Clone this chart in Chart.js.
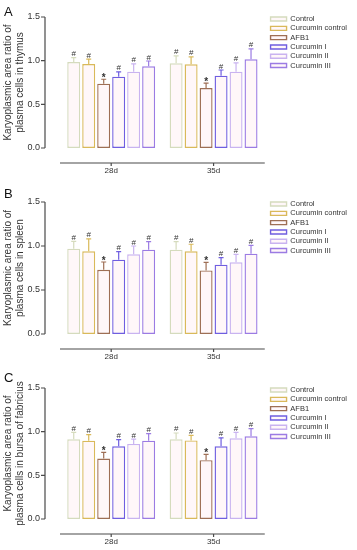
<!DOCTYPE html>
<html>
<head>
<meta charset="utf-8">
<script src="https://cdn.jsdelivr.net/npm/chart.js@4.4.1/dist/chart.umd.min.js"></script>
<style>
    body { margin: 0; background: #fff; }
    #wrap { position: relative; width: 357px; height: 550px; font-family: "Liberation Sans", Arial, sans-serif; }
    .panel { position: absolute; left: 0; width: 357px; }
    .tag { position: absolute; left: 4px; font-size: 13px; line-height: 13px; color: #111; }
</style>
</head>
<body>
<div id="wrap">
    <div class="panel" style="top:0;height:180px"><canvas id="chartA" width="357" height="180"></canvas></div>
    <div class="panel" style="top:180px;height:185px"><canvas id="chartB" width="357" height="185"></canvas></div>
    <div class="panel" style="top:365px;height:185px"><canvas id="chartC" width="357" height="185"></canvas></div>
    <div class="tag" style="top:5px">A</div>
    <div class="tag" style="top:187px">B</div>
    <div class="tag" style="top:371px">C</div>
</div>
<script>
const categories = ["28d", "35d"];
const groupNames = ["Control", "Curcumin control", "AFB1", "Curcumin I", "Curcumin II", "Curcumin III"];
const groupColors = ["#d5dbbd", "#d9b95a", "#9e6f55", "#6f5ee0", "#c9b3f0", "#9b7be3"];
const groupMarks = ["#", "#", "*", "#", "#", "#"];

// each row = one group, values for [28d, 35d]
const thymusMean = [[0.985, 0.97], [0.962, 0.959], [0.737, 0.687], [0.817, 0.828], [0.874, 0.874], [0.936, 1.016]];
const thymusSD = [[0.05, 0.085], [0.055, 0.085], [0.05, 0.055], [0.055, 0.065], [0.09, 0.1], [0.06, 0.12]];

const spleenMean = [[0.97, 0.958], [0.94, 0.94], [0.73, 0.723], [0.845, 0.788], [0.905, 0.814], [0.958, 0.913]];
const spleenSD = [[0.083, 0.092], [0.14, 0.08], [0.088, 0.09], [0.09, 0.08], [0.095, 0.09], [0.092, 0.094]];

const bursaMean = [[0.913, 0.913], [0.897, 0.9], [0.692, 0.673], [0.833, 0.833], [0.86, 0.924], [0.897, 0.947]];
const bursaSD = [[0.08, 0.072], [0.07, 0.058], [0.07, 0.068], [0.076, 0.095], [0.055, 0.068], [0.08, 0.087]];

const yMin = 0;
const yMax = 1.5;
const yStep = 0.5;

let charts = {};

// GraphPad-like offset axes, whiskers and significance marks
const prismPlugin = {
    id: "prism",
    afterLayout(chart) {
        const lg = chart.legend;
        const area = chart.chartArea;
        lg.left = area.right + 4;
        lg.right = lg.left + lg.width;
        lg.top = area.top - 3.5;
        lg.bottom = lg.top + lg.height;
    },
    afterDatasetsDraw(chart, args, opts) {
        const { ctx, chartArea, scales: { x, y } } = chart;
        ctx.save();

        chart.data.datasets.forEach((ds, i) => {
            const meta = chart.getDatasetMeta(i);
            meta.data.forEach((bar, j) => {
                const top = y.getPixelForValue(ds.data[j] + opts.errors[i][j]);
                ctx.strokeStyle = ds.borderColor;
                ctx.lineWidth = 1.2;
                ctx.beginPath();
                ctx.moveTo(bar.x, bar.y);
                ctx.lineTo(bar.x, top);
                ctx.moveTo(bar.x - 2.5, top);
                ctx.lineTo(bar.x + 2.5, top);
                ctx.stroke();

                const mark = groupMarks[i];
                ctx.fillStyle = "#333";
                ctx.font = mark === "*" ? "bold 10px 'Liberation Sans', Arial" : "8px 'Liberation Sans', Arial";
                ctx.textAlign = "center";
                ctx.textBaseline = "alphabetic";
                ctx.fillText(mark, bar.x, mark === "*" ? top + 1.5 : top - 1.5);
            });
        });

        const axisX = chartArea.left - 15;
        const lineY = chartArea.bottom + 15;
        ctx.strokeStyle = "#4a4a4a";
        ctx.lineWidth = 1.2;
        ctx.beginPath();
        ctx.moveTo(axisX, y.getPixelForValue(yMax));
        ctx.lineTo(axisX, y.getPixelForValue(yMin));
        y.ticks.forEach((t) => {
            const py = y.getPixelForValue(t.value);
            ctx.moveTo(axisX - 4, py);
            ctx.lineTo(axisX, py);
        });
        ctx.moveTo(chartArea.left, lineY);
        ctx.lineTo(chartArea.right, lineY);
        categories.forEach((c, k) => {
            const px = x.getPixelForValue(k);
            ctx.moveTo(px, lineY);
            ctx.lineTo(px, lineY + 3);
        });
        ctx.stroke();
        ctx.restore();
    },
};

function createPanel(canvasID, means, errors, yTitle, chartTop, chartBottom) {
    const canvas = document.getElementById(canvasID);
    const H = canvas.height;

    const datasets = groupNames.map((name, i) => ({
        label: name,
        data: means[i],
        backgroundColor: "#fff7f9",
        borderColor: groupColors[i],
        borderWidth: 1.4,
        borderSkipped: false,
        categoryPercentage: 0.878,
        barPercentage: 0.867,
    }));

    charts[canvasID] = new Chart(canvas, {
        type: "bar",
        data: { labels: categories, datasets: datasets },
        plugins: [prismPlugin],
        options: {
            responsive: false,
            animation: false,
            layout: { padding: { top: chartTop, right: 4, bottom: 0, left: 0 } },
            scales: {
                x: {
                    grid: { display: false, drawTicks: false },
                    border: { display: false },
                    ticks: { padding: 18, color: "#333", font: { size: 8, family: "'Liberation Sans', Arial" } },
                    afterFit(scale) {
                        scale.height = H - chartBottom;
                    },
                },
                y: {
                    min: yMin,
                    max: yMax,
                    grid: { display: false, drawTicks: false },
                    border: { display: false },
                    ticks: {
                        stepSize: yStep,
                        padding: 20,
                        color: "#333",
                        font: { size: 9, family: "'Liberation Sans', Arial" },
                        callback: (v) => Number(v).toFixed(1),
                    },
                    title: {
                        display: true,
                        text: yTitle,
                        color: "#333",
                        padding: { top: 2, bottom: 0 },
                        font: { size: 10, lineHeight: 1.2, family: "'Liberation Sans', Arial" },
                    },
                    afterFit(scale) {
                        scale.width = 60;
                        // tick padding would otherwise push the plot down
                        scale.paddingTop = 6;
                        scale.paddingBottom = 6;
                    },
                },
            },
            plugins: {
                tooltip: { enabled: false },
                legend: {
                    position: "right",
                    align: "start",
                    labels: {
                        boxWidth: 16,
                        boxHeight: 4,
                        padding: 1.8,
                        color: "#333",
                        font: { size: 7.5, family: "'Liberation Sans', Arial" },
                    },
                },
                prism: { errors: errors },
            },
        },
    });
}

createPanel("chartA", thymusMean, thymusSD, ["Karyoplasmic area ratio of", "plasma cells in thymus"], 17, 148);
createPanel("chartB", spleenMean, spleenSD, ["Karyoplasmic area ratio of", "plasma cells in spleen"], 22, 154);
createPanel("chartC", bursaMean, bursaSD, ["Karyoplasmic area ratio of", "plasma cells in bursa of fabricius"], 23, 154);
</script>
</body>
</html>
